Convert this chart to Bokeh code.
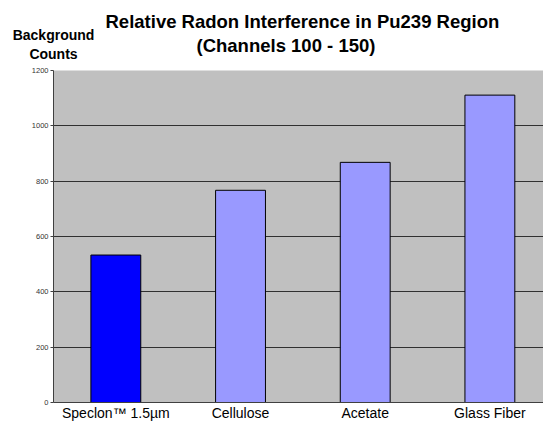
from bokeh.plotting import figure
from bokeh.models import Range1d, Label, FixedTicker, ColumnDataSource
from bokeh.layouts import column
from bokeh.embed import file_html
from bokeh.resources import INLINE

# ---- data ----
categories = ["Speclon\u2122 1.5\u00b5m", "Cellulose", "Acetate", "Glass Fiber"]
counts = [533, 767, 868, 1111]
bar_colors = ["#0000FF", "#9999FF", "#9999FF", "#9999FF"]
y_ticks = [0, 200, 400, 600, 800, 1000, 1200]
title_lines = ["Relative Radon Interference in Pu239 Region", "(Channels 100 - 150)"]
y_title = "Background\nCounts"

FONT = "Liberation Sans"
HEADER_H = 65
FRAME_LEFT = 53          # frame left edge (shared by both figures)
HEADER_FRAME_BOTTOM = 60

x_range = Range1d(0, 3.93)

# ---- header (titles) ----
header = figure(width=543, height=HEADER_H, output_backend="svg", toolbar_location=None,
                x_range=x_range, y_range=Range1d(0, 1),
                y_axis_location=None,
                min_border_left=FRAME_LEFT, min_border_right=0,
                min_border_top=0, min_border_bottom=HEADER_H - HEADER_FRAME_BOTTOM)
header.grid.grid_line_color = None
header.outline_line_color = None
header.background_fill_color = "white"
header.border_fill_color = "white"

# "Background / Counts" as a tick label centred on the frame's left edge
header.xaxis.ticker = FixedTicker(ticks=[0])
header.xaxis.major_label_overrides = {0: y_title}
header.xaxis.major_label_text_font = FONT
header.xaxis.major_label_text_font_size = "14px"
header.xaxis.major_label_text_font_style = "bold"
header.xaxis.major_label_text_color = "black"
header.xaxis.axis_line_color = None
header.xaxis.major_tick_line_color = None
header.xaxis.minor_tick_line_color = None
header.xaxis.major_tick_out = 0
header.xaxis.major_tick_in = 0
header.xaxis.major_label_standoff = -34

def add_label(fig, text, x_abs, y_abs, size):
    fig.add_layout(Label(x=x_abs - FRAME_LEFT, y=HEADER_FRAME_BOTTOM - y_abs,
                         x_units="screen", y_units="screen",
                         text=text, text_font=FONT, text_font_size=size,
                         text_font_style="bold", text_color="black",
                         text_align="left", text_baseline="middle"))

add_label(header, title_lines[0], 105, 20.5, "18.5px")
add_label(header, title_lines[1], 196, 45.3, "18.5px")

# ---- main chart ----
xpos = [i + 0.5 for i in range(len(categories))]
src = ColumnDataSource(dict(x=xpos, top=counts, color=bar_colors))

p = figure(width=543, height=423 - HEADER_H, output_backend="svg", toolbar_location=None,
           x_range=x_range, y_range=Range1d(0, 1200),
           min_border_left=FRAME_LEFT, min_border_right=0, min_border_top=70 - HEADER_H,
           min_border_bottom=21)
p.background_fill_color = "#C0C0C0"
p.border_fill_color = "white"
p.outline_line_color = None

p.vbar(x="x", top="top", bottom=0, width=0.4, fill_color="color",
       line_color="black", line_width=1, source=src)

# y axis
p.yaxis.ticker = FixedTicker(ticks=y_ticks)
p.yaxis.major_label_text_font = FONT
p.yaxis.major_label_text_font_size = "7.5px"
p.yaxis.major_label_text_color = "#333333"
p.yaxis.axis_line_color = "#404040"
p.yaxis.major_tick_line_color = "#404040"
p.yaxis.major_tick_out = 3
p.yaxis.major_tick_in = 0
p.yaxis.minor_tick_line_color = None
p.yaxis.major_label_standoff = 2

# x axis
p.xaxis.ticker = FixedTicker(ticks=xpos)
p.xaxis.major_label_overrides = {x: c for x, c in zip(xpos, categories)}
p.xaxis.major_label_text_font = FONT
p.xaxis.major_label_text_font_size = "14px"
p.xaxis.major_label_text_color = "black"
p.xaxis.axis_line_color = "#404040"
p.xaxis.major_tick_line_color = None
p.xaxis.minor_tick_line_color = None
p.xaxis.major_tick_out = 0
p.xaxis.major_tick_in = 0
p.xaxis.major_label_standoff = 2

p.xgrid.grid_line_color = None
p.ygrid.ticker = FixedTicker(ticks=y_ticks)
p.ygrid.grid_line_color = "#303030"
p.ygrid.grid_line_width = 1

layout = column(header, p, spacing=0)
open("out.html", "w").write(file_html(layout, INLINE))
